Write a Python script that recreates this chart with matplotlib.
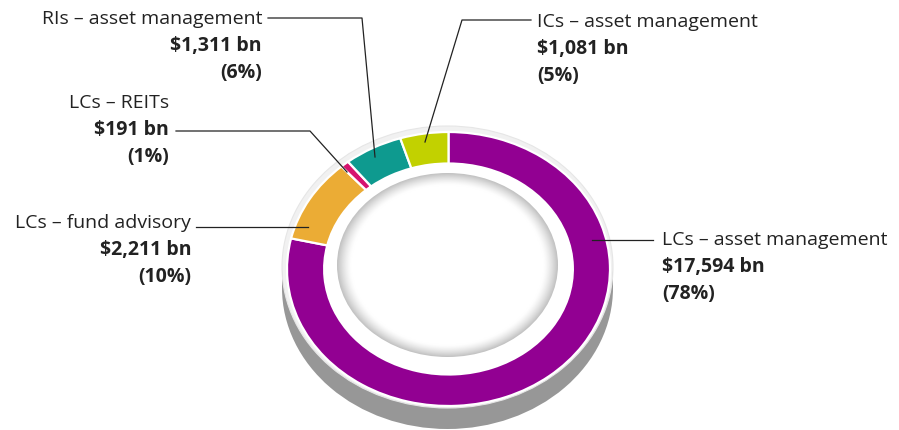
import matplotlib.pyplot as plt
import numpy as np
from matplotlib.patches import Ellipse, Rectangle

# data
labels = ['LCs – asset management', 'LCs – fund advisory', 'LCs – REITs',
          'RIs – asset management', 'ICs – asset management']
values = [17594, 2211, 191, 1311, 1081]
amounts = ['$17,594 bn', '$2,211 bn', '$191 bn', '$1,311 bn', '$1,081 bn']
shares = ['(78%)', '(10%)', '(1%)', '(6%)', '(5%)']
colors = ['#920092', '#ebac35', '#d6136f', '#0e9a8f', '#c2d100']

W, H = 899, 430
cx, cy, rx, ry = 448.5, 269.0, 161.5, 137.0   # ring centre / radii in pixels


def X(px):
    return (px - cx) / rx


def Y(py):
    return (cy - py) / ry


plt.rcParams['font.family'] = ['Open Sans', 'DejaVu Sans']

fig = plt.figure(figsize=(W / 100, H / 100), dpi=100)
ax = fig.add_axes([0, 0, 1, 1])

# 3d side of the disc
rim_c = (X(447.5), Y(267))
rim_w, rim_h = 2 * 165.5 / rx, 2 * 141 / ry
drop = 21 / ry
ax.add_patch(Ellipse((rim_c[0], rim_c[1] - drop), rim_w, rim_h, color='#979797', lw=0, zorder=1))
ax.add_patch(Rectangle((rim_c[0] - rim_w / 2, rim_c[1] - drop), rim_w, drop, color='#979797', lw=0, zorder=1))
# top face
ax.add_patch(Ellipse(rim_c, rim_w, rim_h, facecolor='#f1f1f1', edgecolor='#e6e6e6', lw=0.8, zorder=2))

wedges, _ = ax.pie(values, colors=colors, startangle=90, counterclock=False, radius=1,
                   wedgeprops=dict(width=0.23, edgecolor='white', linewidth=1.6))
for w in wedges:
    w.set_zorder(3)
# white space inside the ring
ax.add_patch(Ellipse((0, 0), 2 * 0.77, 2 * 0.77, color='white', lw=0, zorder=3))

# recessed centre with soft inner shadow
dc = (X(447.5), Y(265))
dw, dh = 2 * 110.5 / rx, 2 * 92 / ry
n = 300
u, v = np.meshgrid(np.linspace(-1, 1, n), np.linspace(-1, 1, n))
r = np.sqrt(u ** 2 + v ** 2)
shade = 1 - 0.24 * np.clip((r - 0.87) / 0.13, 0, 1) ** 1.4
img = np.dstack([shade] * 3)
clip = Ellipse(dc, dw, dh, transform=ax.transData)
im = ax.imshow(img, extent=(dc[0] - dw / 2, dc[0] + dw / 2, dc[1] - dh / 2, dc[1] + dh / 2),
               origin='lower', zorder=4, interpolation='bilinear')
im.set_clip_path(clip)

ax.set_aspect('auto')
ax.set_xlim(X(0), X(W))
ax.set_ylim(Y(H), Y(0))
ax.axis('off')

txt = dict(color='#222222', fontsize=14, va='center', zorder=6)

# label positions in pixels: (x, y of first line, alignment)
lab_pos = [(662, 240, 'left'), (191, 223, 'right'), (169, 103, 'right'),
           (262, 19, 'right'), (537, 22, 'left')]
leaders = [
    [(653, 240), (592, 240)],
    [(196, 227), (308, 227)],
    [(176, 131), (310, 131), (347, 172)],
    [(268, 18), (362, 18), (375, 157)],
    [(531, 20), (462, 20), (425, 142)],
]

for i in range(len(labels)):
    x, y, ha = lab_pos[i]
    ax.text(X(x), Y(y), labels[i], ha=ha, **txt)
    ax.text(X(x), Y(y + 27), amounts[i], ha=ha, fontweight='bold', **txt)
    ax.text(X(x), Y(y + 54), shares[i], ha=ha, fontweight='bold', **txt)
    pts = leaders[i]
    ax.plot([X(p[0]) for p in pts], [Y(p[1]) for p in pts], color='#222222', lw=0.9, zorder=7)

fig.savefig('out.png', dpi=100)
